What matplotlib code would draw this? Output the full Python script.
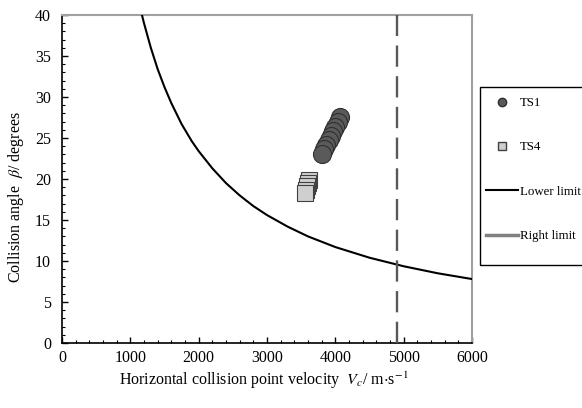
import matplotlib
matplotlib.use("Agg")
import matplotlib.pyplot as plt
from matplotlib.patches import Rectangle
from matplotlib.lines import Line2D

plt.rcParams['font.family'] = ['Liberation Serif', 'DejaVu Serif']
plt.rcParams['mathtext.fontset'] = 'stix'

# Data
ts1_v = [4068, 4035, 4000, 3967, 3935, 3900, 3870, 3838, 3805]
ts1_beta = [27.6, 27.0, 26.4, 25.9, 25.3, 24.8, 24.2, 23.7, 23.1]
ts4_v = [3610, 3596, 3583, 3570, 3556]
ts4_beta = [19.9, 19.5, 19.1, 18.7, 18.35]
lower_v = [1170, 1200, 1300, 1400, 1500, 1600, 1750, 1900, 2000, 2200, 2400,
           2600, 2800, 3000, 3300, 3600, 4000, 4500, 5000, 5500, 6000]
lower_beta = [40.0, 39.0, 36.0, 33.4, 31.2, 29.25, 26.7, 24.6, 23.4, 21.3, 19.5,
              18.0, 16.7, 15.6, 14.2, 13.0, 11.7, 10.4, 9.36, 8.5, 7.8]
right_limit_v = 4900

W, H = 582, 408
fig = plt.figure(figsize=(W / 100, H / 100), dpi=100)
ax = fig.add_axes([62 / W, 1 - 343 / H, (472 - 62) / W, (343 - 15) / H])

ax.plot(lower_v, lower_beta, color='black', lw=1.5, zorder=3)
ax.axvline(right_limit_v, color='#585858', lw=1.7, dashes=(9, 4), zorder=3)

for v, b in zip(ts4_v, ts4_beta):
    ax.plot([v], [b], marker='s', ms=11, mfc='#cfcfcf', mec='#404040', mew=0.8,
            ls='none', zorder=4)
for v, b in zip(ts1_v, ts1_beta):
    ax.plot([v], [b], marker='o', ms=13, mfc='#5a5a5a', mec='#303030', mew=0.8,
            ls='none', zorder=4)

ax.set_xlim(0, 6000)
ax.set_ylim(0, 40)
ax.set_xticks(range(0, 6001, 1000))
ax.set_yticks(range(0, 41, 5))
ax.set_xticks(range(0, 6001, 200), minor=True)
ax.set_yticks(range(0, 41, 1), minor=True)
ax.tick_params(which='both', direction='in', top=False, right=False, labelsize=11.5)
ax.tick_params(which='major', length=4, width=1)
ax.tick_params(which='minor', length=2.5, width=0.8)
ax.tick_params(axis='x', pad=5)
ax.tick_params(axis='y', pad=8)
for s in ['left', 'bottom']:
    ax.spines[s].set_color('black')
    ax.spines[s].set_linewidth(1.2)
for s in ['top', 'right']:
    ax.spines[s].set_color('#a0a0a0')
    ax.spines[s].set_linewidth(1.5)

fig.text(264 / W, 1 - 380 / H, r'Horizontal collision point velocity  $V_c$/ m$\cdot$s$^{-1}$',
         fontsize=11.5, ha='center', va='center')
fig.text(16 / W, 1 - 197 / H, r'Collision angle  $\beta$/ degrees',
         fontsize=11.5, ha='center', va='center', rotation=90)

# Legend
fig.patches.append(Rectangle((480 / W, 1 - 265 / H), 120 / W, (265 - 87) / H,
                             transform=fig.transFigure, fill=False, ec='black', lw=1.0))
handles = [
    Line2D([], [], marker='o', ms=6, mfc='#5a5a5a', mec='#303030', ls='none'),
    Line2D([], [], marker='s', ms=6, mfc='#cfcfcf', mec='#404040', ls='none'),
    Line2D([], [], color='black', lw=1.5),
    Line2D([], [], color='#808080', lw=2.5),
]
labels = ['TS1', 'TS4', 'Lower limit', 'Right limit']
fig.legend(handles, labels, loc='upper left', bbox_to_anchor=(486 / W, 1 - 97 / H),
           frameon=False, fontsize=9.3, handlelength=2.5, handletextpad=0.15,
           labelspacing=2.5, borderpad=0, borderaxespad=0)

fig.savefig('out.png', dpi=100)
